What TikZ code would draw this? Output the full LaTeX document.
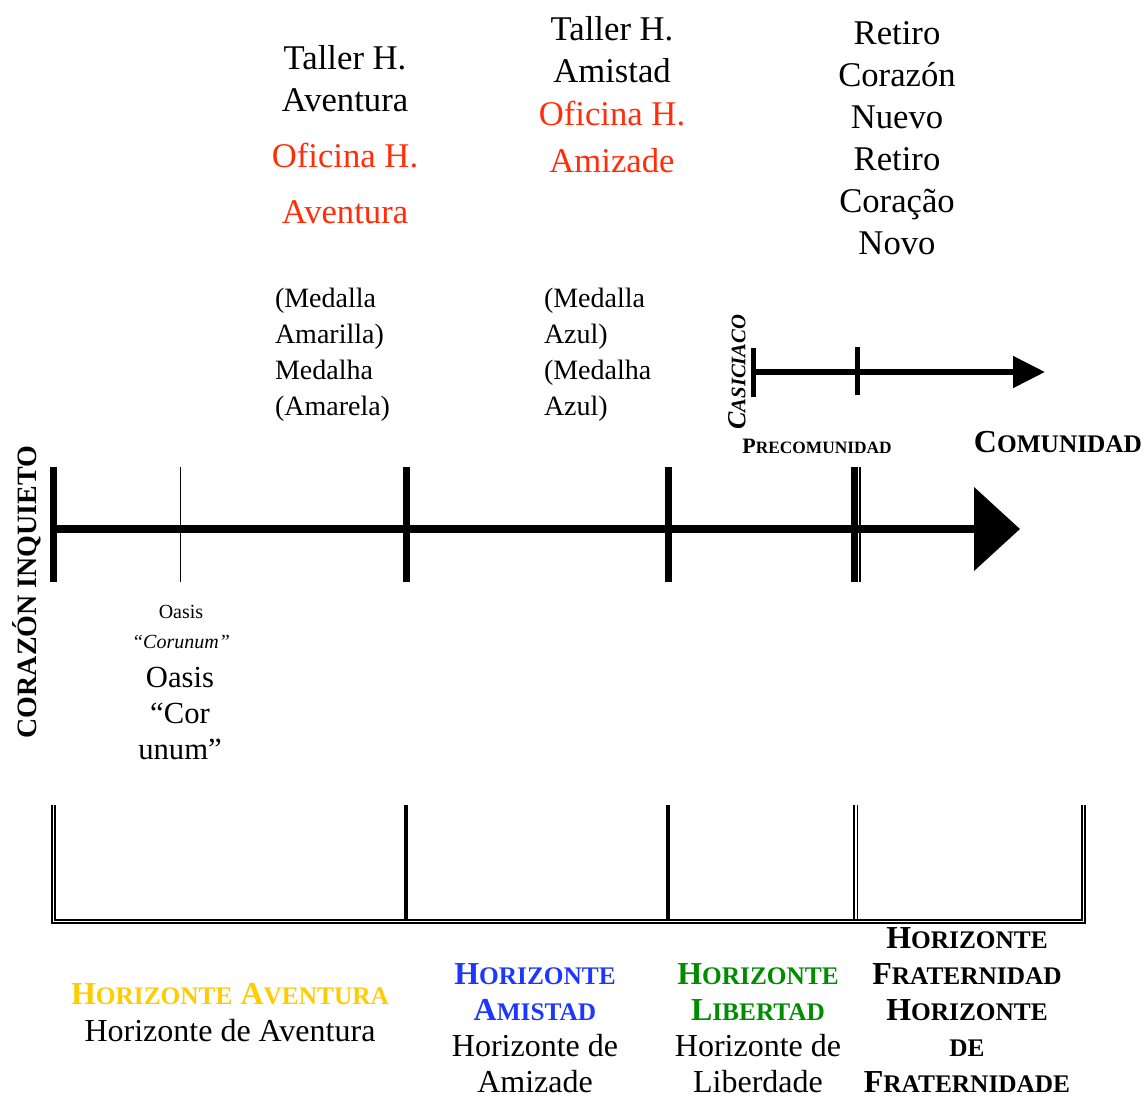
\documentclass[tikz,border=0pt]{standalone}
\usepackage{fontspec}
\setmainfont{Liberation Serif}
\usetikzlibrary{arrows.meta}
\definecolor{ored}{RGB}{255,45,10}
\definecolor{hyellow}{RGB}{255,204,0}
\definecolor{hblue}{RGB}{30,55,255}
\definecolor{hgreen}{RGB}{0,140,0}
\newcommand\sm[1]{{\fontsize{19}{19}\selectfont #1}}
\newcommand\smx[2]{{\fontsize{#1}{#1}\selectfont #2}}
\begin{document}
\begin{tikzpicture}[x=0.75pt,y=-0.75pt,
  every node/.style={inner sep=0pt,outer sep=0pt},
  bigtxt/.style={font=\fontsize{26}{31.5}\selectfont,align=center},
  medtxt/.style={font=\fontsize{21}{27}\selectfont,align=left},
  hztxt/.style={font=\fontsize{24}{27}\selectfont,align=center},
  mainaxis/.style={line width=6.5pt,-{Triangle[length=34.5pt,width=61.5pt]}},
  subaxis/.style={line width=4.5pt,-{Triangle[length=24pt,width=23pt]}},
  tickthick/.style={line width=5.25pt},
  ticksub/.style={line width=3.75pt},
  tickthin/.style={line width=0.75pt},
  boxouter/.style={line width=1.5pt},
  boxinner/.style={line width=1.2pt},
  boxmid/.style={line width=3pt}]
\path[use as bounding box] (0,0) rectangle (1145,1099);

% main axis
\coordinate (a0) at (57,529);
\coordinate (a1) at (1020,529);
\draw[mainaxis] (a0) -- (a1);
\draw[tickthick] (53,467) -- (53,582);
\draw[tickthin] (180,467) -- (180,582);
\draw[tickthick] (406,467) -- (406,582);
\draw[tickthick] (668,467) -- (668,582);
\draw[tickthick] (854,467) -- (854,582);
\draw[line width=1.5pt] (860,467) -- (860,582);

% sub axis
\coordinate (b0) at (755,372);
\coordinate (b1) at (1045,372);
\draw[subaxis] (b0) -- (b1);
\draw[ticksub] (753,348) -- (753,397);
\draw[ticksub] (857,347) -- (857,395);

% bottom box
\draw[boxouter] (52,805) -- (52,923) -- (1085,923) -- (1085,805);
\draw[boxinner] (55,805) -- (55,920) -- (1082,920) -- (1082,805);
\draw[boxmid] (406,805) -- (406,920);
\draw[boxmid] (668,805) -- (668,920);
\draw[boxinner] (854,805) -- (854,920);
\draw[boxinner] (857.5,805) -- (857.5,920);

% top texts
\node[bigtxt] (t1) at (345,79) {Taller H.\\Aventura};
\node[bigtxt,font=\fontsize{26}{42}\selectfont,text=ored] (o1) at (345,183) {Oficina H.\\Aventura};
\node[bigtxt] (t2) at (612,50) {Taller H.\\Amistad};
\node[bigtxt,font=\fontsize{26}{35}\selectfont,text=ored] (o2) at (612,137) {Oficina H.\\Amizade};
\node[bigtxt] (r1) at (897,138) {Retiro\\Corazón\\Nuevo\\Retiro\\Coração\\Novo};

\node[medtxt,anchor=west] (m1) at (275,355) {(Medalla\\Amarilla)\\Medalha\\(Amarela)};
\node[medtxt,anchor=west] (m2) at (544,355) {(Medalla\\Azul)\\(Medalha\\Azul)};

% side labels
\node[rotate=90,font=\fontsize{21}{21}\selectfont\bfseries] (ci) at (27,592) {CORAZÓN INQUIETO};
\node[rotate=90,font=\fontsize{19.5}{19.5}\selectfont\bfseries\itshape] (cas) at (737,372) {C\smx{15.5}{ASICIACO}};
\node[font=\fontsize{16.5}{16.5}\selectfont\bfseries] (pre) at (817,446) {P\smx{13}{RECOMUNIDAD}};
\node[font=\fontsize{24}{24}\selectfont\bfseries] (com) at (1058,442) {C\sm{OMUNIDAD}};

% oasis
\node[align=center,font=\fontsize{15}{22.5}\selectfont] (oa1) at (181,627) {Oasis\\\textit{“Corunum”}};
\node[align=center,font=\fontsize{23}{27}\selectfont] (oa2) at (180,713) {Oasis\\“Cor\\unum”};

% bottom labels
\node[hztxt,font=\fontsize{24}{27.75}\selectfont] (h1) at (230,1013) {{\color{hyellow}\bfseries H\sm{ORIZONTE} A\sm{VENTURA}}\\Horizonte de Aventura};
\node[hztxt] (h2) at (535,1028) {{\color{hblue}\bfseries H\sm{ORIZONTE}}\\{\color{hblue}\bfseries A\sm{MISTAD}}\\Horizonte de\\Amizade};
\node[hztxt] (h3) at (758,1028) {{\color{hgreen}\bfseries H\sm{ORIZONTE}}\\{\color{hgreen}\bfseries L\sm{IBERTAD}}\\Horizonte de\\Liberdade};
\node[hztxt,font=\fontsize{24}{27}\selectfont\bfseries] (h4) at (967,1010) {H\sm{ORIZONTE}\\F\sm{RATERNIDAD}\\H\sm{ORIZONTE}\\\sm{DE}\\F\sm{RATERNIDADE}};
\end{tikzpicture}
\end{document}
